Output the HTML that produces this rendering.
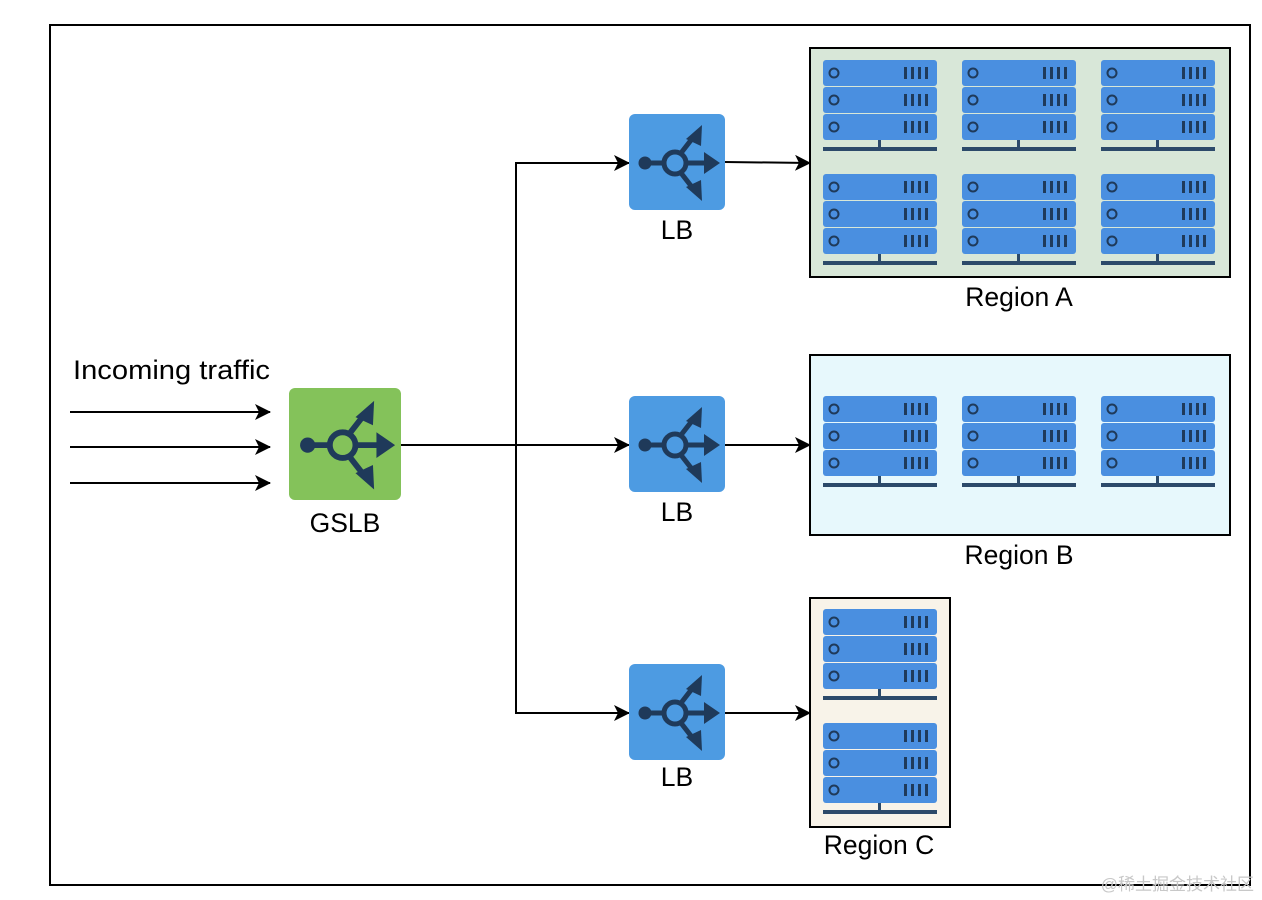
<!DOCTYPE html>
<html><head><meta charset="utf-8"><style>
html,body{margin:0;padding:0;background:#fff;}
svg{display:block;}
text{font-family:"Liberation Sans",Arial,sans-serif;fill:#000;}
</style></head><body>
<svg width="1262" height="900" viewBox="0 0 1262 900" xmlns="http://www.w3.org/2000/svg">
<defs>
<marker id="ah" markerWidth="16" markerHeight="16" refX="15" refY="8" orient="auto" markerUnits="userSpaceOnUse">
<path d="M0,0 L16,8 L0,16 L4,8 Z" fill="#000"/>
</marker>
<g id="glyph" stroke="#1f3a5a" fill="none" stroke-width="5">
<line x1="16" y1="49" x2="35" y2="49"/>
<circle cx="46" cy="49" r="11"/>
<line x1="57" y1="49" x2="78" y2="49"/>
<path d="M52,39 L66,21"/><path d="M52,59 L66,77"/>
<circle cx="16" cy="49" r="6.5" fill="#1f3a5a" stroke="none"/>
<path d="M75,38 L91,49 L75,60 Z" fill="#1f3a5a" stroke="none"/>
<path d="M73,11 L72,32 L57,25 Z" fill="#1f3a5a" stroke="none"/>
<path d="M73,87 L72,66 L57,73 Z" fill="#1f3a5a" stroke="none"/>
</g>
<g id="unit">
<rect x="0" y="0" width="114" height="26" rx="3" fill="#4a8fe0"/>
<circle cx="11" cy="13" r="4.5" fill="none" stroke="#1f3a5a" stroke-width="2"/>
<rect x="81" y="7" width="3" height="12" fill="#1f3a5a"/>
<rect x="88" y="7" width="3" height="12" fill="#1f3a5a"/>
<rect x="95" y="7" width="3" height="12" fill="#1f3a5a"/>
<rect x="102" y="7" width="3" height="12" fill="#1f3a5a"/>
</g>
<g id="server">
<use href="#unit" y="0"/><use href="#unit" y="27"/><use href="#unit" y="54"/>
<rect x="55" y="80" width="3" height="9" fill="#2c4a6a"/>
<rect x="0" y="87" width="114" height="4" fill="#2c4a6a"/>
</g>
</defs>

<rect x="50" y="25" width="1200" height="860" fill="#fff" stroke="#000" stroke-width="2"/>

<rect x="810" y="48" width="420" height="229" fill="#d8e7d8" stroke="#000" stroke-width="2"/>
<rect x="810" y="355" width="420" height="180" fill="#e7f8fc" stroke="#000" stroke-width="2"/>
<rect x="810" y="598" width="140" height="229" fill="#f8f3e9" stroke="#000" stroke-width="2"/>

<use href="#server" x="823" y="60"/><use href="#server" x="962" y="60"/><use href="#server" x="1101" y="60"/>
<use href="#server" x="823" y="174"/><use href="#server" x="962" y="174"/><use href="#server" x="1101" y="174"/>
<use href="#server" x="823" y="396"/><use href="#server" x="962" y="396"/><use href="#server" x="1101" y="396"/>
<use href="#server" x="823" y="609"/><use href="#server" x="823" y="723"/>

<g stroke="#000" stroke-width="2" fill="none">
<line x1="70" y1="412" x2="270" y2="412" marker-end="url(#ah)"/>
<line x1="70" y1="447" x2="270" y2="447" marker-end="url(#ah)"/>
<line x1="70" y1="483" x2="270" y2="483" marker-end="url(#ah)"/>
<line x1="401" y1="445" x2="629" y2="445" marker-end="url(#ah)"/>
<polyline points="629,163 516,163 516,713 629,713" marker-end="url(#ah)"/>
<line x1="516" y1="163" x2="629" y2="163" marker-end="url(#ah)"/>
<line x1="725" y1="162" x2="810" y2="163" marker-end="url(#ah)"/>
<line x1="725" y1="445" x2="810" y2="445" marker-end="url(#ah)"/>
<line x1="725" y1="713" x2="810" y2="713" marker-end="url(#ah)"/>
</g>

<rect x="289" y="388" width="112" height="112" rx="6" fill="#84c25a"/>
<g transform="translate(289,388) scale(1.166)"><use href="#glyph"/></g>
<rect x="629" y="114" width="96" height="96" rx="6" fill="#4d9be2"/>
<use href="#glyph" x="629" y="114"/>
<rect x="629" y="396" width="96" height="96" rx="6" fill="#4d9be2"/>
<use href="#glyph" x="629" y="396"/>
<rect x="629" y="664" width="96" height="96" rx="6" fill="#4d9be2"/>
<use href="#glyph" x="629" y="664"/>

<g font-size="26.5">
<text x="73" y="379" textLength="197" lengthAdjust="spacingAndGlyphs">Incoming  traffic</text>
<text x="345" y="532" text-anchor="middle">GSLB</text>
<text x="677" y="239" text-anchor="middle">LB</text>
<text x="677" y="521" text-anchor="middle">LB</text>
<text x="677" y="786" text-anchor="middle">LB</text>
<text x="1019" y="306" text-anchor="middle">Region A</text>
<text x="1019" y="564" text-anchor="middle">Region B</text>
<text x="879" y="854" text-anchor="middle">Region C</text>
</g>
<text x="1254" y="890" text-anchor="end" font-size="17" style="fill:#c8c8c8;font-family:'Liberation Sans','Noto Sans CJK SC',sans-serif">@稀土掘金技术社区</text>
</svg>
</body></html>
